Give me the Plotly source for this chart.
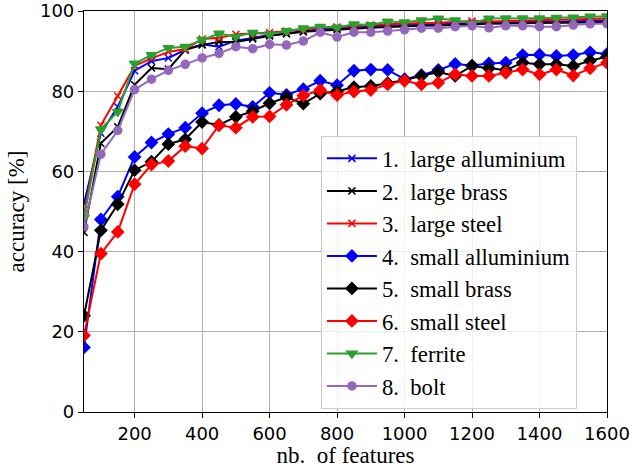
import plotly.graph_objects as go

# number of features used by the classifier
n_features = [50, 100, 150, 200, 250, 300, 350, 400, 450, 500, 550, 600, 650, 700, 750, 800,
              850, 900, 950, 1000, 1050, 1100, 1150, 1200, 1250, 1300, 1350, 1400, 1450, 1500, 1550, 1600]

# accuracy [%] per object class
large_alluminium = [52.0, 69.5, 76.1, 85.1, 87.5, 88.3, 90.3, 91.7, 91.1, 92.6, 93.3, 94.0, 94.4, 95.0, 95.4, 95.7,
                    96.0, 96.2, 96.4, 96.5, 96.6, 96.8, 96.9, 97.0, 97.0, 97.1, 97.2, 97.3, 97.3, 97.4, 97.5, 97.6]
large_brass = [44.8, 67.0, 71.1, 81.6, 85.8, 85.5, 90.3, 91.5, 92.3, 92.3, 93.0, 93.8, 94.3, 94.8, 95.1, 95.4,
               95.6, 95.8, 96.0, 96.2, 96.3, 96.4, 96.6, 96.7, 96.8, 96.9, 96.9, 97.0, 97.1, 97.1, 97.2, 97.3]
large_steel = [49.5, 71.5, 78.8, 86.3, 88.2, 89.8, 90.5, 93.0, 93.3, 94.2, 94.4, 94.6, 95.0, 95.4, 95.8, 96.0,
               96.3, 96.5, 96.7, 96.9, 97.0, 97.1, 97.3, 97.5, 97.4, 97.5, 97.6, 97.7, 97.8, 97.9, 98.0, 98.1]
small_alluminium = [16.1, 48.0, 53.7, 63.6, 67.2, 69.3, 70.9, 74.5, 76.5, 76.8, 76.1, 79.6, 79.1, 80.5, 82.6, 81.5,
                    85.1, 85.4, 85.3, 83.0, 84.0, 85.3, 86.8, 86.4, 86.9, 87.1, 89.0, 89.1, 88.8, 89.0, 89.7, 89.3]
small_brass = [24.0, 45.3, 51.8, 60.3, 62.4, 66.8, 68.0, 72.3, 71.6, 73.6, 75.0, 77.0, 78.5, 76.9, 79.4, 80.0,
               81.0, 81.3, 82.0, 82.8, 83.8, 84.8, 83.8, 86.3, 85.7, 85.3, 87.1, 86.7, 86.7, 86.3, 87.6, 88.6]
small_steel = [19.1, 39.5, 44.9, 56.8, 61.7, 62.6, 66.3, 65.7, 71.5, 70.9, 73.6, 73.7, 76.6, 78.9, 80.3, 79.0,
               79.9, 80.3, 81.7, 82.6, 81.7, 82.1, 84.2, 83.8, 83.8, 84.6, 85.4, 84.2, 85.4, 83.9, 85.7, 87.1]
ferrite = [48.5, 70.5, 74.9, 86.9, 89.0, 90.8, 91.1, 92.8, 94.4, 93.6, 94.6, 94.2, 95.0, 95.7, 96.1, 95.9,
           96.7, 96.5, 97.4, 97.2, 97.7, 98.1, 97.7, 96.9, 98.1, 98.2, 98.2, 98.2, 98.3, 98.4, 98.6, 98.7]
bolt = [46.2, 64.3, 70.2, 80.4, 83.0, 85.2, 86.7, 88.3, 89.4, 91.1, 90.6, 91.7, 91.5, 92.5, 94.7, 93.5,
        94.7, 94.7, 95.0, 95.3, 95.7, 95.7, 96.1, 96.3, 95.8, 96.3, 96.3, 96.1, 96.1, 96.5, 96.8, 96.8]

x_ticks = [200, 400, 600, 800, 1000, 1200, 1400, 1600]
y_ticks = [0, 20, 40, 60, 80, 100]

NB = "\u00a0"
series = [
    (f"1.{NB} large alluminium", large_alluminium, "#0000ff", "x-thin", 7),
    (f"2.{NB} large brass", large_brass, "#000000", "x-thin", 7),
    (f"3.{NB} large steel", large_steel, "#ff0000", "x-thin", 7),
    (f"4.{NB} small alluminium", small_alluminium, "#0000ff", "diamond", 9),
    (f"5.{NB} small brass", small_brass, "#000000", "diamond", 9),
    (f"6.{NB} small steel", small_steel, "#ff0000", "diamond", 9),
    (f"7.{NB} ferrite", ferrite, "#2ca02c", "triangle-down", 9),
    (f"8.{NB} bolt", bolt, "#9467bd", "circle", 8),
]

fig = go.Figure()
for name, values, color, symbol, size in series:
    fig.add_trace(go.Scatter(
        x=n_features, y=values, name=name, mode="lines+markers",
        line=dict(color=color, width=2),
        marker=dict(symbol=symbol, size=size, color=color,
                    line=dict(color=color, width=1.5)),
    ))

serif = "Liberation Serif"
axis_common = dict(
    showline=True, linecolor="black", linewidth=1.2, mirror=True,
    ticks="outside", ticklen=5, tickwidth=1, tickcolor="black",
    showgrid=True, gridcolor="#b0b0b0", gridwidth=1, zeroline=False,
    tickfont=dict(family="DejaVu Sans", size=18, color="black"),
    automargin=False,
)

fig.update_xaxes(range=[50, 1600], tickvals=x_ticks,
                 title=dict(text=f"nb.{NB} of features",
                            font=dict(family=serif, size=23, color="black"),
                            standoff=4),
                 **axis_common)
fig.update_yaxes(range=[0, 100], tickvals=y_ticks,
                 title=dict(text="accuracy [%]",
                            font=dict(family=serif, size=23, color="black"),
                            standoff=8),
                 **axis_common)

fig.update_layout(
    width=630, height=468,
    margin=dict(l=84, r=23, t=11, b=56),
    paper_bgcolor="white", plot_bgcolor="white",
    legend=dict(
        x=0.453, y=0.688, xanchor="left", yanchor="top",
        bgcolor="rgba(255,255,255,0.8)", bordercolor="#cccccc", borderwidth=1,
        font=dict(family=serif, size=22.7, color="black"),
        itemwidth=50, tracegroupgap=0,
    ),
    showlegend=True,
)

fig.write_html("out.html")
